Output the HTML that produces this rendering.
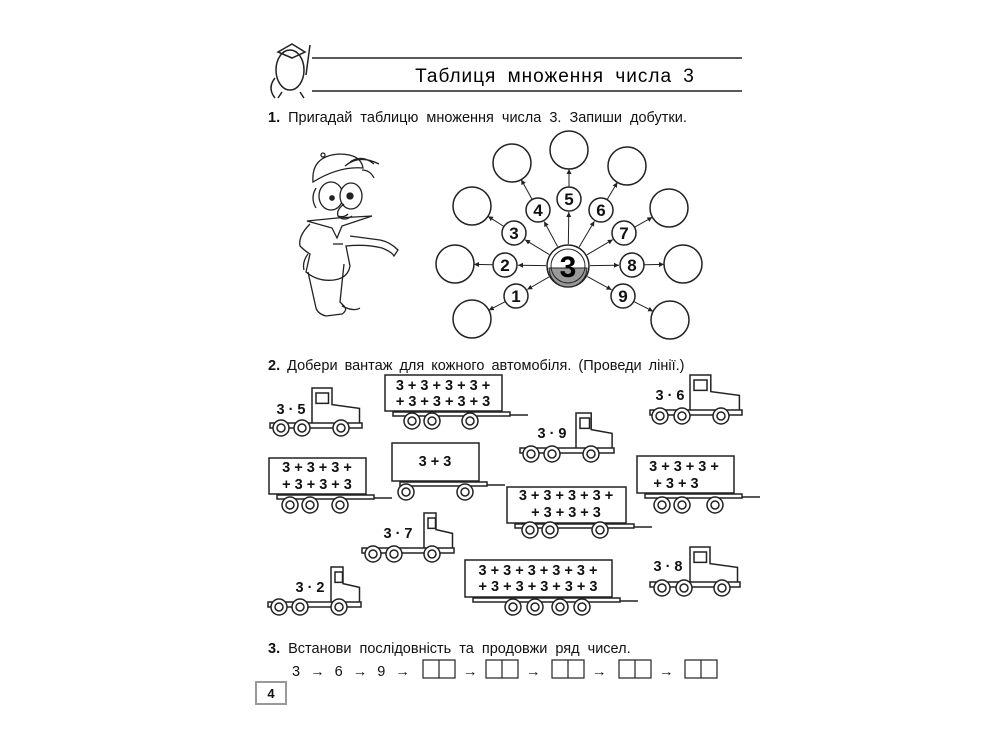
<!DOCTYPE html>
<html><head><meta charset="utf-8"><style>
html,body{margin:0;padding:0;background:#fff;}
svg{display:block;font-family:"Liberation Sans",sans-serif;}
.t{font-size:14.5px;fill:#111;}
.b{font-weight:bold;}
.n{font-weight:bold;font-size:17px;text-anchor:middle;fill:#111;}
.e{font-weight:bold;font-size:14.5px;fill:#111;text-anchor:middle;}
</style></head><body>
<svg id="s" width="1000" height="750" viewBox="0 0 1000 750" xmlns="http://www.w3.org/2000/svg">
<defs><marker id="a" markerWidth="6" markerHeight="6" refX="5" refY="3" orient="auto"><path d="M0,0.5 L5,3 L0,5.5z" fill="#222"/></marker></defs>
<g stroke="#222" fill="none" stroke-width="1.5">
<line x1="312" y1="58" x2="742" y2="58"/><line x1="312" y1="91" x2="742" y2="91"/>
<ellipse cx="290" cy="70" rx="14" ry="20"/><path d="M278,52 L292,44 L305,52 L292,58z"/><line x1="310" y1="45" x2="306" y2="75"/>
<path d="M275,78 q-8,10 0,20 M282,92 l-4,6 M300,92 l4,6"/>
<g stroke-width="1.3">
<path d="M313,182 q-2,-26 26,-28 q22,0 24,14 q-24,-2 -50,14z"/><circle cx="323" cy="155" r="2"/>
<path d="M345,166 q14,-12 34,-2 M350,162 q12,-8 24,2 M362,170 q8,0 12,8"/>
<path d="M316,188 q-6,10 0,20"/>
<ellipse cx="331" cy="196" rx="12" ry="14" fill="#fff"/><ellipse cx="351" cy="196" rx="11" ry="13" fill="#fff"/>
<circle cx="332" cy="198" r="2.2" fill="#222"/><circle cx="350" cy="196" r="3" fill="#222"/>
<path d="M344,204 q-8,6 -6,12 q6,2 10,-2 M338,216 q6,6 14,0"/>
<path d="M307,221 l30,-3 l35,-2 l-30,10 l-5,12 l-5,-10z"/>
<path d="M310,224 q-12,12 -10,22 q5,5 10,8 l-4,18 q12,10 28,8 q14,-2 16,-14 l-4,-20 q20,-2 36,2 q10,4 12,8 l4,-6 q-8,-8 -18,-10 l-30,-4"/>
<path d="M308,254 q-6,8 -4,16 M308,272 l8,36 q2,6 10,8 l16,-2 q6,-4 2,-8 l-4,-4 l4,-38 M342,306 q12,6 18,2"/>
<line x1="333" y1="244" x2="343" y2="244"/>
</g>
<g id="pc"></g>
<g id="tr"></g>
<g stroke-width="1.2">
<rect x="423" y="660" width="32" height="18"/><line x1="439" y1="660" x2="439" y2="678"/>
<rect x="486" y="660" width="32" height="18"/><line x1="502" y1="660" x2="502" y2="678"/>
<rect x="552" y="660" width="32" height="18"/><line x1="568" y1="660" x2="568" y2="678"/>
<rect x="619" y="660" width="32" height="18"/><line x1="635" y1="660" x2="635" y2="678"/>
<rect x="685" y="660" width="32" height="18"/><line x1="701" y1="660" x2="701" y2="678"/>
</g>
<rect x="256" y="682" width="30" height="22" stroke="#999" stroke-width="2"/>
</g>
<text x="555" y="82" text-anchor="middle" style="font-size:19px;letter-spacing:1px;word-spacing:5px" fill="#000">Таблиця множення числа 3</text>
<text x="268" y="122" class="t" style="word-spacing:4px"><tspan class="b">1.</tspan> Пригадай таблицю множення числа 3. Запиши добутки.</text>
<text x="268" y="370" class="t" style="word-spacing:3px"><tspan class="b">2.</tspan> Добери вантаж для кожного автомобіля. (Проведи лінії.)</text>
<text x="268" y="653" class="t" style="word-spacing:4px"><tspan class="b">3.</tspan> Встанови послідовність та продовжи ряд чисел.</text>
<text x="292" y="676" class="t" style="word-spacing:6px">3 → 6 → 9 →</text>
<text x="463" y="676" class="t">→</text><text x="526" y="676" class="t">→</text><text x="592" y="676" class="t">→</text><text x="659" y="676" class="t">→</text>
<text x="271" y="698" class="e" style="font-size:13px">4</text>
<g class="n">
<text x="568" y="277" style="font-size:30px;fill:#000">3</text>
<text x="516" y="302">1</text><text x="505" y="271">2</text><text x="514" y="239">3</text><text x="538" y="216">4</text><text x="569" y="205">5</text><text x="601" y="216">6</text><text x="624" y="239">7</text><text x="632" y="271">8</text><text x="623" y="302">9</text>
</g>
<g class="e">
<text x="291" y="414">3 · 5</text><text x="670" y="400">3 · 6</text><text x="552" y="438">3 · 9</text><text x="398" y="538">3 · 7</text><text x="310" y="592">3 · 2</text><text x="668" y="571">3 · 8</text>
<text x="443" y="390">3 + 3 + 3 + 3 +</text><text x="443" y="406">+ 3 + 3 + 3 + 3</text>
<text x="317" y="472">3 + 3 + 3 +</text><text x="317" y="489">+ 3 + 3 + 3</text>
<text x="435" y="466">3 + 3</text>
<text x="566" y="500">3 + 3 + 3 + 3 +</text><text x="566" y="517">+ 3 + 3 + 3</text>
<text x="684" y="471">3 + 3 + 3 +</text><text x="676" y="488">+ 3 + 3</text>
<text x="538" y="575">3 + 3 + 3 + 3 + 3 +</text><text x="538" y="591">+ 3 + 3 + 3 + 3 + 3</text>
</g>
<script>
var NS="http://www.w3.org/2000/svg";
function el(p,t,a){var e=document.createElementNS(NS,t);for(var k in a)e.setAttribute(k,a[k]);p.appendChild(e);return e;}
var pc=document.getElementById('pc'),C=[568,266];
var sm=[[516,296],[505,265],[514,233],[538,210],[569,199],[601,210],[624,233],[632,265],[623,296]];
var bg=[[472,319],[455,264],[472,206],[512,163],[569,150],[627,166],[669,208],[683,264],[670,320]];
for(var i=0;i<9;i++){var s=sm[i],b=bg[i];
 var dx=s[0]-C[0],dy=s[1]-C[1],d=Math.hypot(dx,dy);
 el(pc,'line',{x1:C[0]+dx/d*22,y1:C[1]+dy/d*22,x2:s[0]-dx/d*13,y2:s[1]-dy/d*13,'marker-end':'url(#a)','stroke-width':1});
 dx=b[0]-s[0];dy=b[1]-s[1];d=Math.hypot(dx,dy);
 el(pc,'line',{x1:s[0]+dx/d*12,y1:s[1]+dy/d*12,x2:b[0]-dx/d*19,y2:b[1]-dy/d*19,'marker-end':'url(#a)','stroke-width':1});
 el(pc,'circle',{cx:s[0],cy:s[1],r:12,fill:'#fff'});
 el(pc,'circle',{cx:b[0],cy:b[1],r:19,fill:'#fff'});}
el(pc,'circle',{cx:568,cy:266,r:21,fill:'#fff'});
el(pc,'path',{d:'M549,268 A19,19 0 0 0 587,268z',fill:'#999','stroke-width':1});
el(pc,'circle',{cx:568,cy:266,r:17,fill:'none','stroke-width':1});
var tr=document.getElementById('tr');
function wheel(x,y){el(tr,'circle',{cx:x,cy:y,r:8,fill:'#fff'});el(tr,'circle',{cx:x,cy:y,r:4});}
function truck(cx,cy,w,h,wh,wy,x0){
 el(tr,'path',{d:'M'+cx+','+(cy+h)+' V'+cy+' H'+(cx+w*0.4)+' V'+(cy+h*0.45)+' L'+(cx+w*0.95)+','+(cy+h*0.55)+' V'+(cy+h)+' Z',fill:'#fff'});
 el(tr,'rect',{x:cx+4,y:cy+5,width:w*0.25,height:h*0.28});
 el(tr,'rect',{x:x0,y:cy+h-2,width:cx-x0+w,height:5,fill:'#fff'});
 wh.forEach(function(x){wheel(x,wy)});}
function trailer(x,y,w,h,wh,wy){el(tr,'rect',{x:x,y:y,width:w,height:h,fill:'#fff'});
 el(tr,'rect',{x:x+8,y:y+h+1,width:w,height:4});el(tr,'line',{x1:x+w+8,y1:y+h+4,x2:x+w+26,y2:y+h+4});
 wh.forEach(function(x){wheel(x,wy)});}
truck(312,388,50,37,[281,302,341],428,270);
truck(690,375,52,37,[660,682,721],416,650);
truck(576,413,38,37,[531,552,591],454,520);
truck(424,513,30,37,[373,394,432],554,362);
truck(331,567,30,37,[279,300,339],607,268);
truck(690,547,50,37,[662,684,722],588,650);
trailer(385,375,117,36,[412,432,470],421);
trailer(269,458,97,36,[290,310,340],505);
trailer(392,443,87,38,[406,465],492);
trailer(507,487,119,36,[530,550,600],530);
trailer(637,456,97,37,[662,682,715],505);
trailer(465,560,147,37,[513,535,560,582],607);
</script>
</svg>
</body></html>
